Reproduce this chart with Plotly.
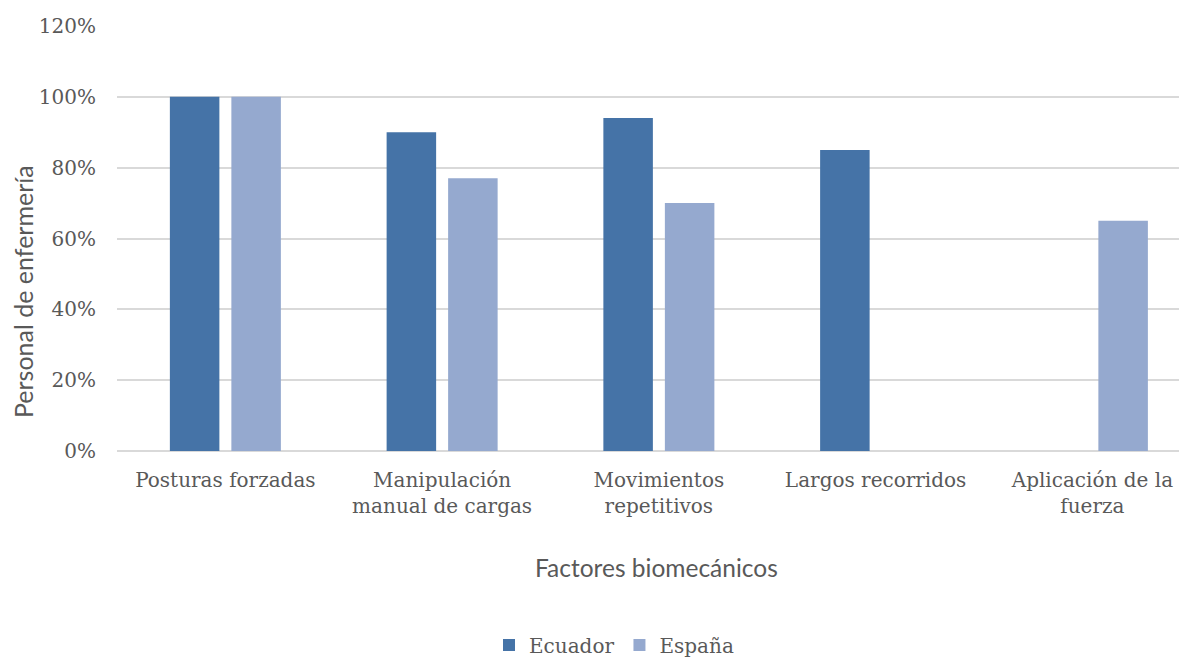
import plotly.graph_objects as go

categories = ["Posturas forzadas", "Manipulación<br>manual de cargas", "Movimientos<br>repetitivos",
              "Largos recorridos", "Aplicación de la<br>fuerza"]
ecuador = [100, 90, 94, 85, None]
espana = [100, 77, 70, None, 65]
y_ticks = [0, 20, 40, 60, 80, 100, 120]
y_tick_labels = [f"{v}%" for v in y_ticks]

serif = "DejaVu Serif"
sans = "Lato"
txt = "#595959"

W, H = 1187, 657
OFF = 8  # page body offset
# target plot area in screen pixels (plot runs past right edge in reference)
PL, PR, PT, PB = 117, 1187, 26, 451
CAT_W = 216.75  # pixels per category in reference
x_end = -0.5 + (PR - PL) / CAT_W

fig = go.Figure()
fig.add_trace(go.Bar(name="Ecuador", x=categories, y=ecuador, marker_color="#4573a7",
                     marker_line_width=0))
fig.add_trace(go.Bar(name="España", x=categories, y=espana, marker_color="#95a9cf",
                     marker_line_width=0))

fig.update_layout(
    width=W, height=H,
    margin=dict(l=PL - OFF, r=W - (PR - OFF), t=PT - OFF, b=H - (PB - OFF), autoexpand=False),
    plot_bgcolor="white", paper_bgcolor="white",
    barmode="group", bargap=0.4325, bargroupgap=0.195,
    font=dict(family=serif, size=20, color=txt),
    showlegend=True,
    legend=dict(orientation="h", x=(614 - OFF) / W, xanchor="center", xref="container",
                y=1 - (645 - OFF) / H, yanchor="middle", yref="container",
                font=dict(family=serif, size=20, color=txt), itemwidth=30,
                traceorder="normal"),
    xaxis=dict(showgrid=False, showline=False, ticks="", ticklabelstandoff=15,
               automargin=False, range=[-0.5, x_end],
               tickfont=dict(family=serif, size=20, color=txt)),
    yaxis=dict(range=[0, 120], tickvals=y_ticks, ticktext=y_tick_labels,
               showgrid=True, gridcolor="#d9d9d9", gridwidth=1.5,
               zeroline=True, zerolinecolor="#d9d9d9", zerolinewidth=1.5,
               showline=False, ticks="", ticklabelstandoff=20, automargin=False,
               tickfont=dict(family=serif, size=20, color=txt)),
    annotations=[
        dict(text="Factores biomecánicos", xref="paper", yref="paper",
             x=(657 - PL) / (PR - PL), y=(PB - 567) / (PB - PT),
             xanchor="center", yanchor="middle", showarrow=False,
             font=dict(family=sans, size=24.5, color=txt)),
        dict(text="Personal de enfermería", xref="paper", yref="paper",
             x=(23 - PL) / (PR - PL), y=(PB - 292) / (PB - PT),
             xanchor="center", yanchor="middle", showarrow=False,
             textangle=-90, font=dict(family=sans, size=25, color=txt)),
    ],
)

fig.write_html("out.html")
